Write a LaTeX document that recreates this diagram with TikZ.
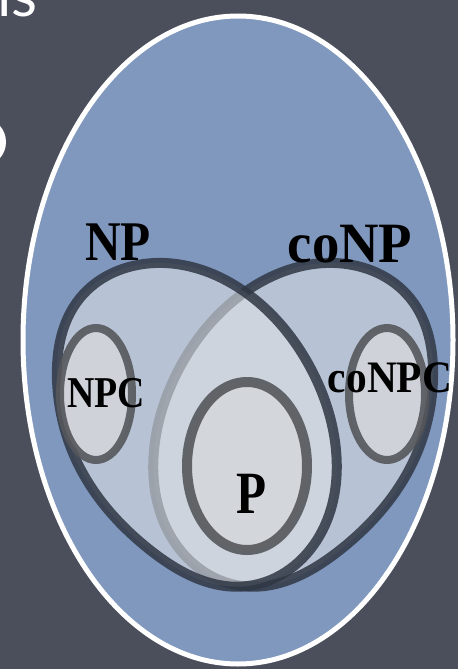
\documentclass[tikz,border=0pt]{standalone}
\usepackage{fontspec}
\usepackage{graphicx}
\usetikzlibrary{hobby}
\newfontfamily\lblfont{Liberation Serif}
\newfontfamily\ttlfont{Lato}
\definecolor{slate}{HTML}{4B4F5C}
\definecolor{sky}{HTML}{8098BE}
\definecolor{rim}{HTML}{2F3744}
\definecolor{veil}{HTML}{DDE0E5}
\definecolor{ring}{HTML}{55575B}
\definecolor{core}{HTML}{D5D7DB}
% class label: size in pt, horizontal squeeze, text
\newcommand{\setlbl}[3]{\scalebox{#2}[1]{\fontsize{#1}{#1}\selectfont\lblfont\bfseries #3}}
\tikzset{
  classset/.style={fill=veil, fill opacity=0.6, draw=rim, draw opacity=0.85, line width=10pt,
                   use Hobby shortcut, closed=true},
  subset/.style={fill=core, fill opacity=0.8, draw=ring, draw opacity=0.9, line width=#1},
  lbl/.style={inner sep=0pt, anchor=base, text=black}
}
\begin{document}
\begin{tikzpicture}[x=1pt,y=-1pt]
  \useasboundingbox (0,0) rectangle (458,669);
  \clip (0,0) rectangle (458,669);
  \fill[slate] (0,0) rectangle (458,669);

  % pieces of the slide title running off the edge
  \node[inner sep=0pt, anchor=base west, text=white] (title) at (-3,17)
    {\fontsize{60}{60}\selectfont\ttlfont is};
  \fill[white] (-15,142) ellipse [x radius=21pt, y radius=23pt];

  % the universe of problems
  \draw[fill=sky, draw=white, line width=5pt] (238,340) ellipse [x radius=215pt, y radius=324pt];

  % coNP (mirror image of NP about x = 245)
  \begin{scope}[xshift=490pt, xscale=-1]
    \draw[classset] (155,263) .. (245,292) .. (310,367) .. (336,450) .. (320,535)
      .. (248,586) .. (150,550) .. (80,468) .. (57,380) .. (80,298);
  \end{scope}

  % NP
  \draw[classset] (155,263) .. (245,292) .. (310,367) .. (336,450) .. (320,535)
    .. (248,586) .. (150,550) .. (80,468) .. (57,380) .. (80,298);

  % complete problems and P
  \draw[subset=8pt] (96,394) ellipse [x radius=36pt, y radius=66pt];
  \draw[subset=8pt] (387,394) ellipse [x radius=38pt, y radius=66pt];
  \draw[subset=10pt] (247,466) ellipse [x radius=60pt, y radius=84pt];

  % labels
  \node[lbl] (np) at (118,260) {\setlbl{56}{0.88}{NP}};
  \node[lbl] (conp) at (350,262) {\setlbl{57}{0.96}{coNP}};
  \node[lbl] (npc) at (106,407) {\setlbl{44}{0.86}{NPC}};
  \node[lbl] (conpc) at (390,392) {\setlbl{45}{0.92}{coNPC}};
  \node[lbl] (p) at (252,513) {\setlbl{60}{0.82}{P}};
\end{tikzpicture}
\end{document}
